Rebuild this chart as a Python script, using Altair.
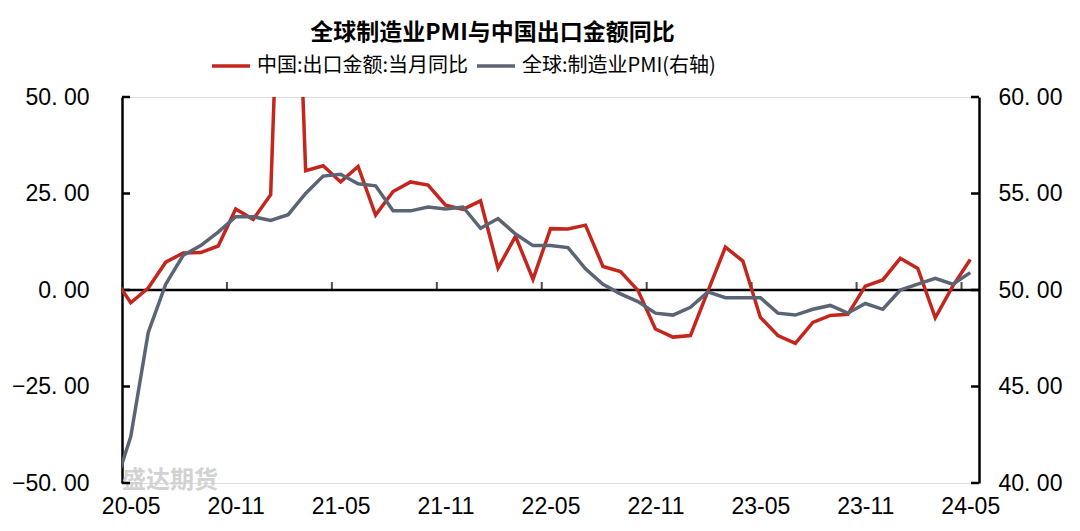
import altair as alt
import pandas as pd

# ---------------- data ----------------
months = [d.strftime("%y-%m") for d in pd.date_range("2020-04-01", "2024-05-01", freq="MS")]
# China exports, USD, YoY %  (2020-04 .. 2024-05)
china_export = [3.5, -3.3, 0.5, 7.2, 9.6, 9.7, 11.4, 21.0, 18.3, 24.7,
                154.9, 30.9, 32.2, 28.0, 32.0, 19.4, 25.5, 28.0, 27.2, 22.0,
                20.9, 23.1, 5.7, 13.9, 2.8, 15.9, 15.8, 16.8, 6.1, 4.8,
                -0.1, -10.1, -12.2, -11.8, -0.3, 11.1, 7.5, -7.1, -11.8, -13.8,
                -8.4, -6.6, -6.3, 1.0, 2.6, 8.2, 5.6, -7.2, 1.0, 7.9]
# Global manufacturing PMI (right axis)
global_pmi = [39.6, 42.4, 47.8, 50.3, 51.8, 52.3, 53.0, 53.8, 53.8, 53.6,
              53.9, 55.0, 55.9, 56.0, 55.5, 55.4, 54.1, 54.1, 54.3, 54.2,
              54.3, 53.2, 53.7, 52.9, 52.3, 52.3, 52.2, 51.1, 50.3, 49.8,
              49.4, 48.8, 48.7, 49.1, 49.9, 49.6, 49.6, 49.6, 48.8, 48.7,
              49.0, 49.2, 48.8, 49.3, 49.0, 50.0, 50.3, 50.6, 50.3, 50.9]

series_names = ["中国:出口金额:当月同比", "全球:制造业PMI(右轴)"]
series_colors = ["#C4261D", "#5B6475"]

x_label_text = ["20-05", "20-11", "21-05", "21-11", "22-05", "22-11", "23-05", "23-11", "24-05"]
x_label_pos = [0, 6, 12, 18, 24, 30, 36, 42, 48]
x_tick_pos = [5.5, 11.5, 17.5, 23.5, 29.5, 35.5, 41.5, 47.5]
left_ticks = [-50, -25, 0, 25, 50]
right_ticks = [40, 45, 50, 55, 60]
title_text = "全球制造业PMI与中国出口金额同比"
watermark = "盛达期货"

# ---------------- frames ----------------
idx = list(range(-1, len(months) - 1))
df_red = pd.DataFrame({"idx": idx, "value": china_export, "series": series_names[0]})
df_gray = pd.DataFrame({"idx": idx, "value": global_pmi, "series": series_names[1]})
df_xt = pd.DataFrame({"idx": x_tick_pos})
df_lt = pd.DataFrame({"value": left_ticks})
df_rt = pd.DataFrame({"value": right_ticks})
df_zero = pd.DataFrame({"value": [0]})
df_wm = pd.DataFrame({"t": [watermark]})

W, H = 857, 386
NUM_FONT = "Liberation Sans"
CJK = "Noto Sans CJK SC"

label_array = "[" + ",".join("'" + s + "'" for s in x_label_text) + "]"
x_enc = alt.X(
    "idx:Q",
    scale=alt.Scale(domain=[-0.5, 48.5], nice=False, zero=False),
    axis=alt.Axis(values=x_label_pos, labelExpr=label_array + "[round(datum.value/6)]",
                  domain=False, ticks=False, grid=False, title=None,
                  labelFont=NUM_FONT, labelFontSize=23, labelColor="black",
                  labelPadding=12, labelFlush=False, labelOverlap=False),
)
fmt = "replace(format(datum.value,'.2f'),'.','. ')"
yl_scale = alt.Scale(domain=[-50, 50], nice=False, zero=False)
yl_enc = alt.Y(
    "value:Q", scale=yl_scale,
    axis=alt.Axis(values=left_ticks, labelExpr=fmt, ticks=False, grid=False, title=None,
                  domainColor="black", domainWidth=2.5, labelFont=NUM_FONT,
                  labelFontSize=23, labelColor="black", labelPadding=33),
)
yr_scale = alt.Scale(domain=[40, 60], nice=False, zero=False)
yr_enc = alt.Y(
    "value:Q", scale=yr_scale,
    axis=alt.Axis(values=right_ticks, labelExpr=fmt, ticks=False, grid=False, title=None,
                  orient="right", domainColor="black", domainWidth=2.5, labelFont=NUM_FONT,
                  labelFontSize=23, labelColor="black", labelPadding=19),
)
color_enc = alt.Color(
    "series:N",
    scale=alt.Scale(domain=series_names, range=series_colors),
    legend=alt.Legend(orient="none", legendX=88, legendY=-52, direction="horizontal",
                      title=None, symbolType="stroke", symbolStrokeWidth=3.5,
                      symbolSize=1444, labelFont=CJK, labelFontSize=20,
                      labelColor="black", labelOffset=5, columnPadding=1,
                      labelLimit=0),
)

wm = alt.Chart(df_wm).mark_text(font=CJK, fontSize=24, fontWeight="bold", color="#D2D2D2",
                                 align="center", baseline="middle").encode(
    text="t:N", x=alt.value(48), y=alt.value(H - 2))
zero = alt.Chart(df_zero).mark_rule(color="black", strokeWidth=2.5).encode(y=yl_enc)
xticks = alt.Chart(df_xt).mark_tick(orient="vertical", size=8, thickness=2,
                                    yOffset=-4, color="black").encode(x=x_enc, y=alt.datum(0))
lticks = alt.Chart(df_lt).mark_rule(color="black", strokeWidth=2.5).encode(
    y=yl_enc, x=alt.value(0), x2=alt.value(8))
red = alt.Chart(df_red).mark_line(strokeWidth=3.5, clip=True).encode(
    x=x_enc, y=yl_enc, color=color_enc)

rticks = alt.Chart(df_rt).mark_rule(color="black", strokeWidth=2.5).encode(
    y=yr_enc, x=alt.value(W - 8), x2=alt.value(W))
gray = alt.Chart(df_gray).mark_line(strokeWidth=3.5, clip=True).encode(
    x=x_enc, y=yr_enc, color=color_enc)

left = alt.layer(wm, zero, xticks, lticks, red)
right = alt.layer(rticks, gray)

chart = alt.layer(left, right).resolve_scale(y="independent").properties(
    width=W, height=H,
    padding={"left": 122, "top": 97, "right": 101, "bottom": 48},
    autosize=alt.AutoSizeParams(type="none"),
    title=alt.TitleParams(title_text, font=CJK, fontSize=23, fontWeight="bold",
                          color="black", anchor="middle", frame="group",
                          baseline="top", offset=0, dx=-58),
).configure_view(stroke=None).configure(background="white")

chart.save("out.html", embed_options={"renderer": "svg", "actions": False})
